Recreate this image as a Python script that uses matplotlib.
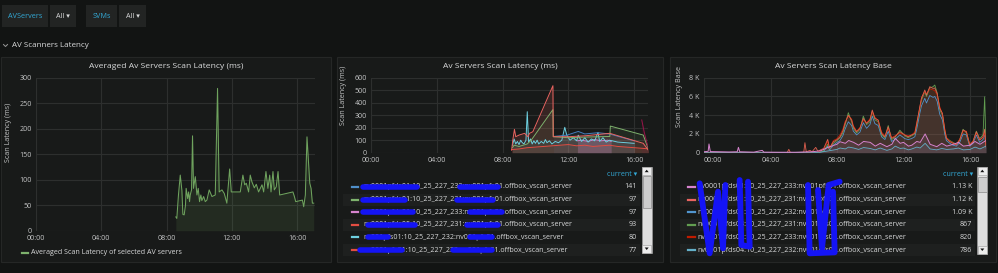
import matplotlib
matplotlib.use('Agg')
import matplotlib.pyplot as plt
from matplotlib.patches import Rectangle, Polygon
from matplotlib.lines import Line2D
from matplotlib.ticker import FuncFormatter

# ---- data (hours since 00:00, values) ----
hour_ticks = [0, 4, 8, 12, 16]
hour_labels = ['00:00', '04:00', '08:00', '12:00', '16:00']

# panel 1: averaged latency (ms)
p1_t = [8.57, 8.63, 8.73, 8.84, 8.94, 9.0, 9.08, 9.16, 9.2, 9.29,
        9.35, 9.41, 9.45, 9.53, 9.59, 9.65, 9.76, 9.86, 9.94, 10.02,
        10.1, 10.16, 10.27, 10.37, 10.47, 10.61, 10.78, 10.98, 11.12, 11.22,
        11.39, 11.53, 11.69, 11.86, 11.96, 12.51, 12.67, 12.78, 12.88, 13.02,
        13.12, 13.22, 13.37, 13.49, 13.63, 13.84, 13.94, 14.08, 14.2, 14.31,
        14.39, 14.51, 14.59, 14.71, 14.82, 14.92, 15.73, 15.82, 15.9, 16.31,
        16.39, 16.49, 16.59, 16.76, 16.84, 16.92, 17.0]
p1_v = [27, 24, 70, 109, 79, 32, 31, 50, 83, 63,
        76, 57, 70, 80, 186, 83, 106, 70, 83, 57,
        70, 59, 67, 57, 60, 80, 67, 70, 279, 76,
        80, 73, 54, 121, 76, 76, 109, 90, 93, 76,
        109, 96, 84, 91, 76, 90, 76, 116, 83, 109,
        76, 116, 80, 86, 116, 70, 76, 67, 57, 60,
        47, 70, 184, 93, 83, 54, 54]
p1_legend = 'Averaged Scan Latency of selected AV servers'

# panel 2: latency per server (ms)
p2_red_t = [8.55, 8.62, 8.72, 8.8, 9.0, 9.34, 9.54, 9.64, 9.84, 11.06, 11.08, 12.0, 13.0, 14.52, 16.55, 16.86]
p2_red_v = [20, 100, 187, 128, 141, 155, 128, 155, 168, 536, 128, 128, 135, 155, 75, 20]
p2_green_t = [8.6, 8.7, 9.0, 9.5, 9.74, 11.06, 11.08, 12.0, 13.0, 14.52, 14.55, 16.55, 16.86]
p2_green_v = [40, 60, 50, 70, 100, 345, 128, 120, 125, 130, 213, 141, 30]
p2_cyan_t = [8.6, 8.7, 8.8, 8.9, 9.0, 9.1, 9.2, 9.3, 9.42, 9.5,
             9.58, 9.7, 9.8, 9.9, 10.0, 10.1, 10.2, 10.35, 10.5, 10.6,
             10.7, 10.85, 11.0, 11.2, 11.4, 11.6, 11.78, 11.9, 12.1, 12.3,
             12.5, 12.6, 12.8, 13.0, 13.2, 13.4, 13.6, 13.8, 13.9, 14.1,
             14.3, 14.5, 15.0, 15.5, 16.0]
p2_cyan_v = [60, 110, 70, 90, 65, 100, 80, 70, 100, 328,
             85, 110, 70, 95, 75, 100, 70, 90, 75, 105,
             80, 95, 70, 90, 80, 100, 203, 141, 100, 120,
             95, 140, 90, 120, 85, 110, 95, 163, 90, 120,
             85, 100, 85, 80, 75]
p2_blue_t = [11.1, 11.9, 12.6, 13.0, 13.8, 14.5, 16.0]
p2_blue_v = [130, 140, 170, 150, 160, 150, 95]
p2_pink_t = [12.55, 12.8, 13.2, 13.6, 14.0, 14.4, 14.6]
p2_pink_v = [95, 100, 90, 105, 95, 100, 90]
p2_low_t = [8.55, 9.0, 9.5, 10.0, 10.5, 11.0, 11.5, 12.0, 12.5, 13.0, 13.5, 14.0, 14.5, 15.0, 15.5, 16.0, 16.5, 16.9]
p2_low_v = [25, 30, 40, 45, 50, 55, 60, 65, 55, 60, 50, 55, 60, 50, 45, 40, 35, 30]
p2_maroon_t = [16.46, 16.6, 16.75, 16.86]
p2_maroon_v = [262, 170, 90, 40]

p2_names = ['nv0001pfds01:10_25_227_232:nv001pfs01.offbox_vscan_server',
            'nv0001pfds01:10_25_227_231:nv001pfs01.offbox_vscan_server',
            'nv0001pfds01:10_25_227_233:nv001pfs01.offbox_vscan_server',
            'nv0001pfds05:10_25_227_231:nv001pfs01.offbox_vscan_server',
            'nv001pfs01:10_25_227_232:nv001pfs01.offbox_vscan_server',
            'nv0001pfs01:10_25_227_233:nv001pfs01.offbox_vscan_server']
p2_current = ['141', '97', '97', '93', '80', '77']

# panel 3: latency base
p3_hi_t = [0.0, 5.0, 5.1, 5.2, 6.0, 6.07, 6.15, 6.37, 6.5, 6.72, 6.85,
           7.0, 7.2, 7.44, 7.55, 7.78,
           8.0, 8.18, 8.35, 8.48, 8.68, 8.88, 8.98,
           9.18, 9.38, 9.58, 9.78, 9.98,
           10.12, 10.28, 10.48, 10.68, 10.88,
           11.08, 11.28, 11.48, 11.78,
           12.08, 12.28, 12.48, 12.68, 12.78, 12.98,
           13.08, 13.28, 13.38, 13.58, 13.78, 13.88,
           14.02, 14.18, 14.34, 14.48, 14.58, 14.78, 14.98,
           15.18, 15.38, 15.58, 15.78, 15.98,
           16.18, 16.38, 16.58, 16.78, 16.88, 16.96]
p3_red_v = [0, 0, 360, 0, 50, 1070, 100, 250, 100, 570, 150,
            300, 460, 1420, 500, 1170,
            1400, 1700, 2300, 3130, 4000, 3480, 2770,
            2240, 2600, 3660, 3130, 3480,
            4550, 3660, 3480, 2060, 1700,
            2770, 1530, 1700, 2240,
            1880, 1700, 1880, 2060, 2950, 4910,
            5800, 6690, 6150, 7040, 6860, 6900,
            6330, 4730, 4200, 2420, 1530, 1170, 1000,
            820, 1350, 2420, 2240, 820,
            1170, 2240, 1350, 1700, 2500, 640]
p3_green_v = [0, 0, 0, 0, 0, 0, 0, 0, 0, 0, 0,
              100, 200, 900, 400, 1000,
              1300, 1600, 2100, 2900, 4270, 3300, 2600,
              2100, 2500, 3900, 3000, 3300,
              4400, 3500, 3300, 1900, 1600,
              2900, 1400, 1600, 2400,
              1800, 1600, 1800, 2000, 2800, 4700,
              5600, 6500, 6000, 6900, 7050, 7220,
              6400, 4600, 4000, 2300, 1600, 1300, 1100,
              900, 1400, 2500, 2100, 900,
              1200, 2300, 1500, 1900, 5970, 700]
p3_blue_v = [0, 0, 0, 0, 0, 0, 0, 0, 0, 0, 0,
             80, 150, 700, 300, 800,
             1100, 1300, 1800, 2500, 3300, 2900, 2300,
             1900, 2200, 3200, 2600, 3000,
             3900, 3100, 2900, 1700, 1400,
             2300, 1200, 1400, 1900,
             1500, 1400, 1500, 1700, 2400, 4200,
             5000, 5800, 5300, 6100, 5900, 6000,
             5500, 4100, 3500, 2000, 1300, 1000, 800,
             700, 1100, 2000, 1900, 700,
             1000, 1900, 1100, 1400, 2000, 500]
p3_dred_v = [0, 0, 0, 0, 0, 0, 0, 0, 0, 0, 0,
             200, 350, 1200, 450, 1300,
             1500, 1900, 2500, 3300, 3900, 3600, 2900,
             2300, 2700, 3500, 3200, 3600,
             4300, 3800, 3400, 2200, 1800,
             2600, 1600, 1800, 2100,
             1900, 1800, 1900, 2200, 3100, 4800,
             5900, 6500, 6300, 6800, 6700, 6600,
             6200, 4900, 4100, 2600, 1600, 1250, 1050,
             900, 1450, 2300, 2300, 900,
             1250, 2100, 1400, 1600, 2200, 600]
p3_lo_t = [0.0, 0.25, 0.3, 0.38, 1.0, 1.5, 2.0, 2.07, 2.15,
           3.0, 3.5, 3.6, 4.5, 5.5, 6.5, 7.0, 7.5,
           8.0, 8.18, 8.5, 8.7, 9.0, 9.3, 9.6,
           10.0, 10.3, 10.6, 11.0, 11.3, 11.5, 11.8,
           12.0, 12.3, 12.5, 12.8, 13.0, 13.3, 13.6,
           14.0, 14.3, 14.6, 15.0, 15.3, 15.6,
           16.0, 16.3, 16.6, 16.96]
p3_pink_v = [100, 150, 930, 120, 100, 80, 100, 575, 100,
             60, 250, 60, 50, 50, 100, 200, 600,
             900, 1170, 1000, 1300, 1100, 800, 1200,
             1100, 700, 1000, 640, 900, 1530, 1000,
             1100, 700, 800, 1200, 1100, 2000, 900,
             640, 1000, 700, 900, 1100, 700,
             800, 1200, 900, 1300]
p3_cyan_v = [0, 0, 0, 0, 0, 0, 0, 0, 0,
             0, 0, 0, 0, 0, 0, 50, 200,
             350, 500, 400, 600, 500, 350, 550,
             450, 300, 500, 250, 400, 700, 450,
             500, 300, 400, 600, 500, 1000, 400,
             300, 450, 350, 400, 500, 300,
             350, 600, 400, 700]
p3_base_t = [0.0, 16.96]
p3_base_v = [0, 0]

p3_names = ['nv0001pfds01:10_25_227_233:nv001pfs01.offbox_vscan_server',
            'nv0001pfds01:10_25_227_231:nv001pfs01.offbox_vscan_server',
            'nv0001pfds01:10_25_227_232:nv001pfs01.offbox_vscan_server',
            'nv0001pfds04:10_25_227_231:nv001pfs01.offbox_vscan_server',
            'nv0001pfds04:10_25_227_233:nv001pfs01.offbox_vscan_server',
            'nv0001pfds04:10_25_227_232:nv001pfs01.offbox_vscan_server']
p3_current = ['1.13 K', '1.12 K', '1.09 K', '867', '820', '786']

# ---- styling ----
W, H = 998, 273
plt.rcParams['font.family'] = ['Open Sans', 'DejaVu Sans']
PAGE = '#121413'
PANEL = '#181a19'
BORDER = '#252726'
GRID = '#2d2f2e'
TXT = '#d8d9da'
TICK = '#c4c5c6'
CYAN = '#33a9d6'
SCRIBBLE = '#1414f5'

fig = plt.figure(figsize=(W / 100, H / 100), dpi=100, facecolor=PAGE)


def fx(x):
    return x / W


def fy(y):
    return 1 - y / H


def box(x0, y0, x1, y1, fc, ec='none', lw=0, z=-5):
    fig.patches.append(Rectangle((fx(x0), fy(y1)), (x1 - x0) / W, (y1 - y0) / H,
                                 transform=fig.transFigure, fc=fc, ec=ec, lw=lw, zorder=z))


def ftext(x, y, s, **kw):
    fig.text(fx(x), fy(y), s, **kw)


def fline(xs, ys, **kw):
    fig.add_artist(Line2D([fx(v) for v in xs], [fy(v) for v in ys],
                          transform=fig.transFigure, **kw))


def tri(pts, color):
    fig.patches.append(Polygon([(fx(a), fy(b)) for a, b in pts], closed=True,
                               transform=fig.transFigure, fc=color, ec='none', zorder=6))


# top variable buttons
for x0, x1, label, col in [(2, 48, 'AVServers', CYAN), (50, 76, 'All ▾', TXT),
                           (86, 117, 'SVMs', CYAN), (119, 146, 'All ▾', TXT)]:
    box(x0, 5, x1, 27, '#222423')
    ftext((x0 + x1) / 2, 16, label, color=col, fontsize=5.2, ha='center', va='center')

# row header
fline([3.5, 5.5, 7.5], [44.5, 46.5, 44.5], color='#9a9a9a', lw=0.7)
ftext(12, 45.7, 'AV Scanners Latency', color=TXT, fontsize=5.8, va='center')

# panels
panels = [(1, 57, 331, 262), (337, 57, 663, 262), (670, 57, 996, 262)]
for x0, y0, x1, y1 in panels:
    box(x0, y0, x1, y1, PANEL, ec=BORDER, lw=0.8)

titles = ['Averaged Av Servers Scan Latency (ms)', 'Av Servers Scan Latency (ms)',
          'Av Servers Scan Latency Base']
for (x0, y0, x1, y1), t in zip(panels, titles):
    ftext((x0 + x1) / 2, 66, t, color=TXT, fontsize=6.1, ha='center', va='center')


def make_ax(x0, y0, x1, y1, xmax, ymax, yticks, ylab, labx, laby):
    ax = fig.add_axes([fx(x0), fy(y1), (x1 - x0) / W, (y1 - y0) / H])
    ax.set_facecolor('none')
    ax.set_xlim(0, xmax)
    ax.set_ylim(0, ymax)
    ax.set_xticks(hour_ticks)
    ax.set_xticklabels(hour_labels)
    ax.set_yticks(yticks)
    for s in ax.spines.values():
        s.set_visible(False)
    ax.grid(True, color=GRID, lw=0.8)
    ax.set_axisbelow(True)
    ax.tick_params(length=0, colors=TICK, labelsize=5.1, pad=3)
    ax.set_ylabel(ylab, color=TICK, fontsize=5.1)
    ax.yaxis.set_label_coords(labx, laby)
    return ax


def series(ax, t, v, color, alpha=0.1, lw=0.8):
    ax.fill_between(t, v, color=color, alpha=alpha, lw=0)
    ax.plot(t, v, color=color, lw=lw)


# panel 1
ax1 = make_ax(35.7, 77.7, 315, 230.7, 17.08, 300, [0, 50, 100, 150, 200, 250, 300],
              'Scan Latency (ms)', -0.085, 0.64)
series(ax1, p1_t, p1_v, '#6fa35e', alpha=0.13, lw=0.75)
fline([21.7, 28.3], [252.7, 252.7], color='#7EB26D', lw=1.6)
ftext(31, 252.7, p1_legend, color=TXT, fontsize=5.1, va='center')

# panel 2
ax2 = make_ax(371, 77.7, 648, 152.7, 16.84, 600, [0, 100, 200, 300, 400, 500, 600],
              'Scan Latency (ms)', -0.087, 0.77)
series(ax2, p2_low_t, p2_low_v, '#E24D42', lw=0.7)
series(ax2, p2_pink_t, p2_pink_v, '#D683CE', alpha=0.3, lw=0.7)
series(ax2, p2_cyan_t, p2_cyan_v, '#6ED0E0', lw=0.7)
series(ax2, p2_blue_t, p2_blue_v, '#447EBC', lw=0.7)
series(ax2, p2_green_t, p2_green_v, '#7EB26D', lw=0.7)
series(ax2, p2_red_t, p2_red_v, '#EA6460', alpha=0.15, lw=0.7)
series(ax2, p2_maroon_t, p2_maroon_v, '#99154A', lw=0.7)

# panel 3
ax3 = make_ax(704, 77.7, 986, 152.7, 16.96, 8000, [0, 2000, 4000, 6000, 8000],
              'Scan Latency Base', -0.074, 0.75)
ax3.yaxis.set_major_formatter(FuncFormatter(lambda v, p: '0' if v == 0 else '%d K' % (v / 1000)))
ax3.get_xticklabels()[0].set_ha('left')
series(ax3, p3_base_t, p3_base_v, '#CCA300', lw=0.7)
series(ax3, p3_hi_t, p3_blue_v, '#5195CE', lw=0.6)
series(ax3, p3_hi_t, p3_green_v, '#629E51', lw=0.6)
series(ax3, p3_hi_t, p3_dred_v, '#BF1B00', lw=0.6)
series(ax3, p3_hi_t, p3_red_v, '#E0604F', lw=0.6)
series(ax3, p3_lo_t, p3_cyan_v, '#64B0C8', lw=0.6)
series(ax3, p3_lo_t, p3_pink_v, '#D683CE', lw=0.7)

# legend tables
row_y = [186.7, 199.7, 212.3, 225, 237.3, 250]
p2_marks = ['#4f8fc9', '#7EB26D', '#D683CE', '#E24D42', '#6ED0E0', '#E24D42']
p3_marks = ['#D683CE', '#EA6460', '#5195CE', '#629E51', '#BF1B00', '#64B0C8']


def legend_table(x_mark, x_text, x_val, x_stripe0, x_stripe1, names, vals, marks):
    ftext(x_val + 1, 174.3, 'current ▾', color=CYAN, fontsize=5.1, ha='right', va='center')
    for i, (y, n, v, c) in enumerate(zip(row_y, names, vals, marks)):
        if i % 2 == 1:
            box(x_stripe0, y - 6, x_stripe1, y + 6, '#1e201f', z=-4)
        fline([x_mark, x_mark + 6.5], [y, y], color=c, lw=1.6, zorder=3)
        ftext(x_text, y, n, color=TXT, fontsize=5.1, va='center')
        ftext(x_val, y, v, color=TXT, fontsize=5.1, ha='right', va='center')


legend_table(351.7, 363, 636.5, 343, 640, p2_names, p2_current, p2_marks)
legend_table(688, 697, 972, 680, 975, p3_names, p3_current, p3_marks)


def scrollbar(x0, x1, y0, y1, t0, t1):
    box(x0, y0, x1, y1, '#dedede', ec='#9a9a9a', lw=0.5, z=5)
    box(x0 + 0.8, t0, x1 - 0.8, t1, '#cdcdcd', ec='#8a8a8a', lw=0.5, z=5.5)
    box(x0 + 0.5, y0 + 0.5, x1 - 0.5, y0 + 8, '#ececec', ec='#9a9a9a', lw=0.4, z=5.5)
    box(x0 + 0.5, y1 - 8, x1 - 0.5, y1 - 0.5, '#ececec', ec='#9a9a9a', lw=0.4, z=5.5)
    cx = (x0 + x1) / 2
    tri([(cx - 2, y0 + 5.5), (cx + 2, y0 + 5.5), (cx, y0 + 3)], '#111111')
    tri([(cx - 2, y1 - 5.5), (cx + 2, y1 - 5.5), (cx, y1 - 3)], '#111111')


scrollbar(641.7, 651.7, 166.7, 253, 175.5, 208)
scrollbar(977.3, 987.3, 166.7, 254, 176.5, 192)

# redaction scribbles over the series names (as in the screenshot)
p2_scribbles = [(363.3, 416.7, 460, 498.3), (363.3, 405, 456.7, 493.3), (363.3, 413.3, 470, 501.7),
                (368.3, 415, 466.7, 498.3), (368.3, 388.3, 470, 491.7), (360, 401.7, 453.3, 491.7)]
for y, (a0, a1, b0, b1) in zip(row_y, p2_scribbles):
    fline([a0, a1], [y, y], color=SCRIBBLE, lw=4.0, solid_capstyle='round', zorder=7)
    fline([b0, b1], [y, y], color=SCRIBBLE, lw=4.0, solid_capstyle='round', zorder=7)

p3_scribbles = [[(95, 55), (125, 265), (150, 80), (165, 250), (172, 60)],
                [(215, 45), (220, 240), (245, 245), (240, 50)],
                [(420, 60), (425, 265), (500, 262), (495, 80)],
                [(450, 75), (462, 250), (482, 60), (515, 50)]]
for pts in p3_scribbles:
    fline([668 + a / 3 for a, b in pts], [165 + b / 3 for a, b in pts],
          color=SCRIBBLE, lw=4.2, solid_capstyle='round', solid_joinstyle='round', zorder=7)

fig.savefig('out.png', dpi=100, facecolor=PAGE)
